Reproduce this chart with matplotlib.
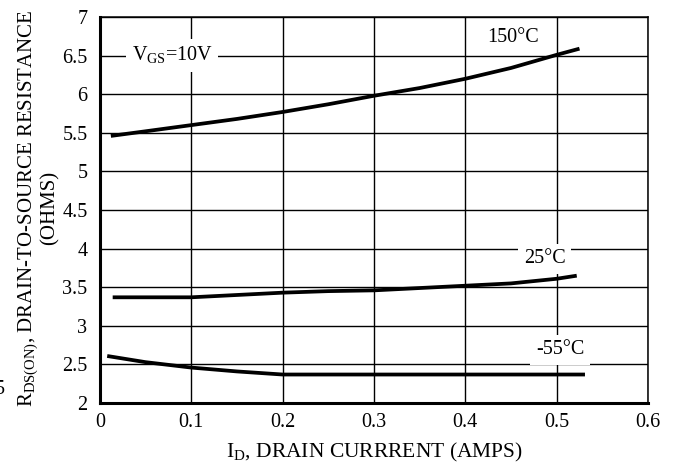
import matplotlib
matplotlib.use("Agg")
import matplotlib.pyplot as plt

plt.rcParams['font.family'] = ['Liberation Serif', 'DejaVu Serif']
plt.rcParams['mathtext.fontset'] = 'custom'
plt.rcParams['mathtext.rm'] = 'Liberation Serif'

# Data
id_150 = [0.012, 0.05, 0.1, 0.15, 0.2, 0.25, 0.3, 0.35, 0.4, 0.45, 0.5, 0.525]
r_150 = [5.46, 5.52, 5.60, 5.68, 5.77, 5.87, 5.98, 6.08, 6.20, 6.34, 6.51, 6.59]

id_25 = [0.014, 0.05, 0.1, 0.15, 0.2, 0.25, 0.3, 0.35, 0.4, 0.45, 0.5, 0.522]
r_25 = [3.37, 3.37, 3.37, 3.40, 3.43, 3.45, 3.46, 3.49, 3.52, 3.55, 3.61, 3.65]

id_m55 = [0.008, 0.05, 0.1, 0.15, 0.2, 0.3, 0.4, 0.5, 0.531]
r_m55 = [2.61, 2.53, 2.46, 2.41, 2.37, 2.37, 2.37, 2.37, 2.37]

x_ticks = [0, 0.1, 0.2, 0.3, 0.4, 0.5, 0.6]
x_labels = ['0', '0.1', '0.2', '0.3', '0.4', '0.5', '0.6']
y_ticks = [2, 2.5, 3, 3.5, 4, 4.5, 5, 5.5, 6, 6.5, 7]
y_labels = ['2', '2.5', '3', '3.5', '4', '4.5', '5', '5.5', '6', '6.5', '7']

fig = plt.figure(figsize=(6.75, 4.66), dpi=100)
ax = fig.add_axes([0.148, 0.135, 0.812, 0.8285])

for xs, ys in [(id_150, r_150), (id_25, r_25), (id_m55, r_m55)]:
    ax.plot(xs, ys, color='black', lw=2.7, solid_capstyle='butt', zorder=3)

ax.set_xlim(0, 0.6)
ax.set_ylim(2, 7)
ax.set_xticks(x_ticks)
ax.set_xticklabels(x_labels)
ax.set_yticks(y_ticks)
ax.set_yticklabels(y_labels)
ax.tick_params(length=0, labelsize=14.5)
ax.tick_params(axis='y', pad=9)
ax.tick_params(axis='x', pad=7)
ax.grid(True, color='black', lw=1.0)

for side in ['left', 'bottom']:
    ax.spines[side].set_linewidth(2.2)
for side in ['top', 'right']:
    ax.spines[side].set_linewidth(1.1)

box = dict(facecolor='white', edgecolor='none', pad=4)
ax.text(0.079, 6.5, r'V$_{\mathrm{GS}}$=10V', fontsize=14.5, ha='center', va='center', bbox=box, zorder=4)
ax.text(0.452, 6.73, '150°C', fontsize=14.5, ha='center', va='center', zorder=4)
ax.text(0.487, 3.87, '25°C', fontsize=14.5, ha='center', va='center', bbox=box, zorder=4)
ax.text(0.504, 2.69, '-55°C', fontsize=14.5, ha='center', va='center', bbox=box, zorder=4)

fig.text(375 / 675, 1 - 452 / 466, r'I$_{\mathrm{D}}$, DRAIN CURRRENT (AMPS)',
         fontsize=15.5, ha='center', va='center')
fig.text(38 / 675, 1 - 208 / 466,
         'R$_{\\mathrm{DS(ON)}}$, DRAIN-TO-SOURCE RESISTANCE\n(OHMS)',
         fontsize=15, ha='center', va='center', rotation=90,
         multialignment='center', linespacing=1.0)

fig.text(5 / 675, 1 - 390 / 466, '5', fontsize=14.5, ha='right', va='center')

fig.savefig('out.png', dpi=100)
